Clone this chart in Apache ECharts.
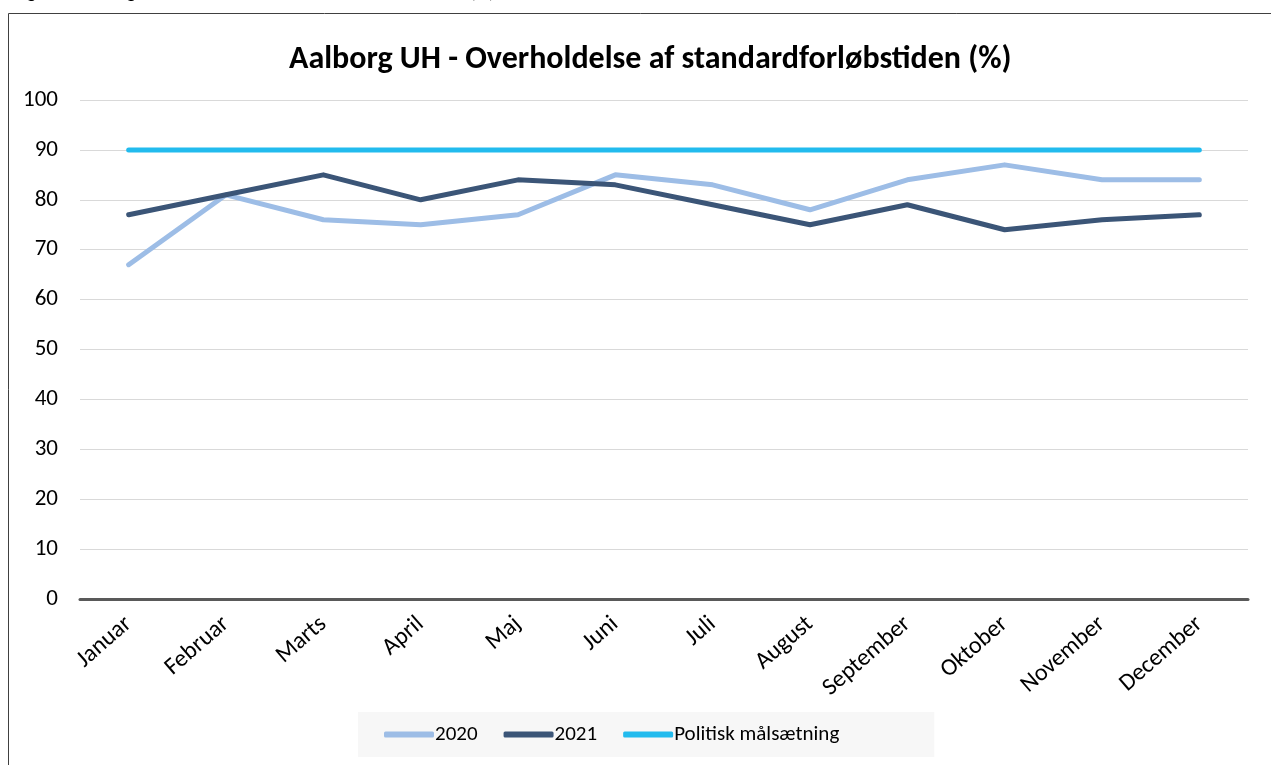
<!DOCTYPE html>
<html>
<head>
<meta charset="utf-8">
<script src="https://cdn.jsdelivr.net/npm/echarts@6/dist/echarts.min.js"></script>
<style>
  html, body { margin: 0; padding: 0; background: #fff; }
  #myChart { width: 1271px; height: 765px; }
</style>
</head>
<body>
<div id="myChart"></div>
<script>
// maaneder
var months = ['Januar', 'Februar', 'Marts', 'April', 'Maj', 'Juni', 'Juli', 'August', 'September', 'Oktober', 'November', 'December'];
var values2020 = [67, 81, 76, 75, 77, 85, 83, 78, 84, 87, 84, 84];
var values2021 = [77, 81, 85, 80, 84, 83, 79, 75, 79, 74, 76, 77];
var target = [90, 90, 90, 90, 90, 90, 90, 90, 90, 90, 90, 90];
var yTicks = { min: 0, max: 100, step: 10 };

var font = "Carlito, Calibri, Lato, sans-serif";
var myChart = echarts.init(document.getElementById('myChart'));

function lineSeries(name, data, color) {
  return {
    name: name,
    type: 'line',
    data: data,
    symbol: 'none',
    smooth: false,
    lineStyle: { width: 5, color: color, cap: 'round', join: 'round' },
    itemStyle: { color: color }
  };
}

myChart.setOption({
  animation: false,
  textStyle: { fontFamily: font },
  graphic: [
    {
      type: 'rect',
      shape: { x: 8.5, y: 13.5, width: 1300, height: 800 },
      style: { fill: 'none', stroke: '#404040', lineWidth: 1 },
      silent: true
    },
    {
      type: 'text',
      left: 14,
      top: -16,
      style: { text: 'Figur 2: Aalborg UH - Overholdelse af standardforløbstiden (%)', font: '19px ' + font, fill: '#000' }
    }
  ],
  title: {
    text: 'Aalborg UH - Overholdelse af standardforløbstiden (%)',
    left: 284,
    top: 39,
    textStyle: { fontFamily: font, fontSize: 32, fontWeight: 'bold', color: '#000' }
  },
  legend: {
    bottom: 8,
    left: 358,
    data: ['2020', '2021', 'Politisk målsætning'],
    icon: 'roundRect',
    itemWidth: 50,
    itemHeight: 6,
    itemGap: 26,
    padding: [12, 95, 12, 26],
    backgroundColor: '#F7F7F7',
    textStyle: { fontFamily: font, fontSize: 21, color: '#000', padding: [0, 0, 0, -4] }
  },
  grid: { left: 80, right: 23, top: 100, bottom: 166, containLabel: false },
  xAxis: {
    type: 'category',
    data: months,
    boundaryGap: true,
    axisLine: { show: true, lineStyle: { color: '#595959', width: 3 } },
    axisTick: { show: false },
    axisLabel: { rotate: 41, fontSize: 24, color: '#000', margin: 22, fontFamily: font }
  },
  yAxis: {
    type: 'value',
    min: yTicks.min,
    max: yTicks.max,
    interval: yTicks.step,
    axisLine: { show: false },
    axisTick: { show: false },
    axisLabel: { fontSize: 23, color: '#000', margin: 22, fontFamily: font },
    splitLine: { lineStyle: { color: '#D9D9D9', width: 1 } }
  },
  series: [
    lineSeries('2020', values2020, '#9DBDE6'),
    lineSeries('2021', values2021, '#3B5577'),
    lineSeries('Politisk målsætning', target, '#22BBEE')
  ]
});
</script>
</body>
</html>
